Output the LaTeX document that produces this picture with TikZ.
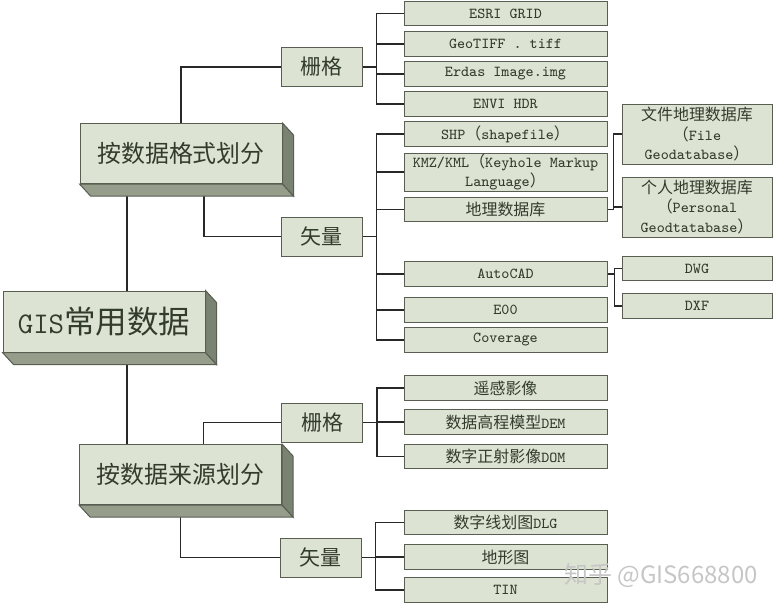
\documentclass[tikz,border=0pt]{standalone}
\usepackage{fontspec}
\newfontfamily\cjk{Noto Sans CJK SC}[Scale=1.05]
\usetikzlibrary{backgrounds}
\definecolor{boxfill}{RGB}{221,227,211}
\definecolor{boxline}{RGB}{88,94,82}
\definecolor{sidedark}{RGB}{122,130,114}
\definecolor{sidelight}{RGB}{150,157,139}
\definecolor{txt}{RGB}{50,60,45}
\definecolor{wire}{RGB}{40,40,40}
\tikzset{
    base/.style={draw=boxline, line width=0.5pt, fill=boxfill, text=txt, inner sep=0pt, align=center},
    leaf/.style={base, minimum width=101.5pt, minimum height=12.3pt, font=\ttfamily\fontsize{7.6}{9.6}\selectfont},
    subleaf/.style={leaf, minimum width=75pt},
    mid/.style={base, minimum width=40.5pt, minimum height=19.5pt, font=\cjk\fontsize{10}{12}\selectfont},
    block/.style={base, minimum width=101pt, minimum height=30pt, font=\cjk\fontsize{11.4}{14}\selectfont},
    rootblock/.style={base, minimum width=101pt, minimum height=30.5pt, font=\ttfamily\fontsize{15}{18}\selectfont},
    wire/.style={draw=wire, line width=0.6pt}
}
% side and bottom faces of a raised box
\newcommand{\blockdepth}[1]{%
    \filldraw[fill=sidelight, draw=boxline, line width=0.5pt] (#1.south west) -- ([shift={(11,12)}]#1.south west) -- ([shift={(11,12)}]#1.south east) -- (#1.south east) -- cycle;
    \filldraw[fill=sidedark, draw=boxline, line width=0.5pt] (#1.north east) -- ([shift={(11,12)}]#1.north east) -- ([shift={(11,12)}]#1.south east) -- (#1.south east) -- cycle;
}
\begin{document}
\begin{tikzpicture}[x=0.5pt, y=-0.5pt]
    \useasboundingbox (0,0) rectangle (774,606);

    % main boxes
    \node[rootblock] (root) at (104,321.5) {GIS{\cjk 常用数据}};
    \node[block] (fmt) at (181,153.5) {按数据格式划分};
    \node[block] (src) at (180.5,474.5) {按数据来源划分};
    \blockdepth{root}
    \blockdepth{fmt}
    \blockdepth{src}

    % second level
    \node[mid] (fmtr) at (321.5,67) {栅格};
    \node[mid] (fmtv) at (321.5,236.5) {矢量};
    \node[mid] (srcr) at (322,422.5) {栅格};
    \node[mid] (srcv) at (320.5,557.5) {矢量};

    % formats, raster
    \node[leaf] (esri) at (505.5,13.5) {ESRI GRID};
    \node[leaf] (geotiff) at (505.5,44) {GeoTIFF . tiff};
    \node[leaf] (erdas) at (505.5,74) {Erdas Image.img};
    \node[leaf] (envi) at (505.5,104) {ENVI HDR};
    % formats, vector
    \node[leaf] (shp) at (505.5,134) {SHP{\cjk （}shapefile{\cjk ）}};
    \node[leaf, minimum height=19pt] (kmz) at (505.5,172) {KMZ/KML{\cjk （}Keyhole Markup\\Language{\cjk ）}};
    \node[leaf] (geodb) at (505.5,209.5) {\cjk 地理数据库};
    \node[leaf] (autocad) at (505.5,274) {AutoCAD};
    \node[leaf] (eoo) at (505.5,310) {E00};
    \node[leaf] (coverage) at (505.5,340) {Coverage};
    \node[subleaf, minimum height=30pt] (filegdb) at (697,134) {{\cjk 文件地理数据库}\\{\cjk （}File\\Geodatabase{\cjk ）}};
    \node[subleaf, minimum height=30pt] (persgdb) at (697,207) {{\cjk 个人地理数据库}\\{\cjk （}Personal\\Geodtatabase{\cjk ）}};
    \node[subleaf] (dwg) at (697,268.5) {DWG};
    \node[subleaf] (dxf) at (697,306) {DXF};

    % sources
    \node[leaf] (rs) at (505.5,388) {\cjk 遥感影像};
    \node[leaf] (dem) at (505.5,422) {{\cjk 数据高程模型}DEM};
    \node[leaf] (dom) at (505.5,456.5) {{\cjk 数字正射影像}DOM};
    \node[leaf] (dlg) at (505.5,522.5) {{\cjk 数字线划图}DLG};
    \node[leaf] (topo) at (505.5,557) {\cjk 地形图};
    \node[leaf] (tin) at (505.5,590) {TIN};

    \begin{scope}[on background layer]
        \coordinate (trunk) at ([shift={(23,0)}]root.center);
        \coordinate (fmtdrop) at ([shift={(23,0)}]fmt.south);
        \coordinate (srcrise) at ([shift={(23,0)}]src.north);
        \draw[wire] (trunk |- fmt.south) -- (trunk |- src.north);
        \draw[wire] (fmt.north) |- (fmtr.west);
        \draw[wire] (fmtdrop) |- (fmtv.west);
        \draw[wire] (srcrise) |- (srcr.west);
        \draw[wire] (src.south) |- (srcv.west);
        \foreach \leaf in {esri,geotiff,erdas,envi}
            \draw[wire] (fmtr.east) -- ++(14,0) |- (\leaf.west);
        \foreach \leaf in {shp,kmz,geodb,autocad,eoo,coverage}
            \draw[wire] (fmtv.east) -- ++(14,0) |- (\leaf.west);
        \foreach \leaf in {rs,dem,dom}
            \draw[wire] (srcr.east) -- ++(14,0) |- (\leaf.west);
        \foreach \leaf in {dlg,topo,tin}
            \draw[wire] (srcv.east) -- ++(14,0) |- (\leaf.west);
        \foreach \leaf in {filegdb,persgdb}
            \draw[wire] (geodb.east) -- ++(6,0) |- (\leaf.west);
        \foreach \leaf in {dwg,dxf}
            \draw[wire] (autocad.east) -- ++(7,0) |- (\leaf.west);
    \end{scope}

    \node[font=\cjk\fontsize{11.4}{14}\selectfont, text=gray!45] (mark) at (661,575) {知乎 @GIS668800};
\end{tikzpicture}
\end{document}
